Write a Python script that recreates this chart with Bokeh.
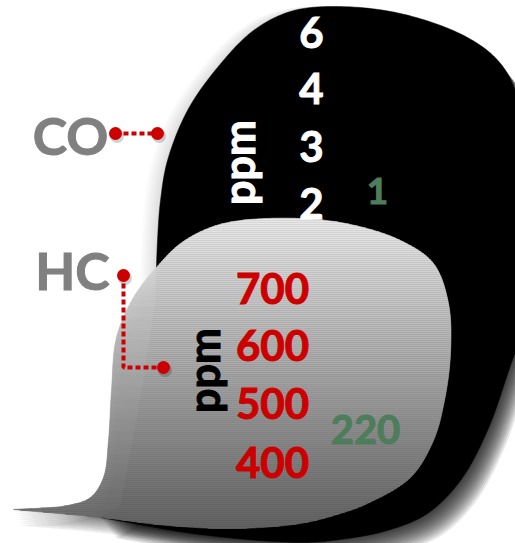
import numpy as np
from bokeh.plotting import figure
from bokeh.models import Range1d
from bokeh.core.properties import value
from bokeh.embed import file_html
from bokeh.resources import INLINE

# ---- data ----
gases = ["CO", "HC"]
unit = "ppm"
co_ticks = ["6", "4", "3", "2"]
co_value = "1"
hc_ticks = ["700", "600", "500", "400"]
hc_value = "220"

# ---- colours ----
RED = "#cc0000"
GREEN = "#4e7d5b"
GREY_TXT = "#808080"
FONT = value("Lato")

# ---- layout (pixel-like coordinates, y downward) ----
W, H = 515, 543
p = figure(width=W, height=H, x_range=Range1d(0, W), y_range=Range1d(H, 0),
           output_backend="svg", toolbar_location=None, min_border=0)
p.axis.visible = False
p.grid.visible = False
p.outline_line_color = None
p.background_fill_color = "white"
p.border_fill_color = "white"


def catmull(points, n=24):
    P = np.array(points, float)
    ext = np.vstack([2 * P[0] - P[1], P, 2 * P[-1] - P[-2]])
    out = []
    for i in range(len(ext) - 3):
        p0, p1, p2, p3 = ext[i:i + 4]
        t0 = 0.0
        t1 = t0 + max(np.linalg.norm(p1 - p0), 1e-6) ** 0.5
        t2 = t1 + max(np.linalg.norm(p2 - p1), 1e-6) ** 0.5
        t3 = t2 + max(np.linalg.norm(p3 - p2), 1e-6) ** 0.5
        t = np.linspace(t1, t2, n, endpoint=False)[:, None]
        A1 = (t1 - t) / (t1 - t0) * p0 + (t - t0) / (t1 - t0) * p1
        A2 = (t2 - t) / (t2 - t1) * p1 + (t - t1) / (t2 - t1) * p2
        A3 = (t3 - t) / (t3 - t2) * p2 + (t - t2) / (t3 - t2) * p3
        B1 = (t2 - t) / (t2 - t0) * A1 + (t - t0) / (t2 - t0) * A2
        B2 = (t3 - t) / (t3 - t1) * A2 + (t - t1) / (t3 - t1) * A3
        C = (t2 - t) / (t2 - t1) * B1 + (t - t1) / (t2 - t1) * B2
        out.append(C)
    out.append(P[-1:])
    return np.vstack(out)


black_curve = catmull([(155, 300), (157, 240), (160, 200), (167, 160), (187, 110), (217, 67),
                       (253, 30), (290, 11), (333, 6), (400, 13), (467, 37), (500, 63),
                       (518, 100), (535, 200), (532, 300), (510, 365), (487, 430), (460, 480),
                       (427, 513), (387, 530), (340, 539), (300, 542), (200, 534), (100, 517)])
black_poly = np.vstack([black_curve, [(120, 505), (140, 400)]])

grey_poly = catmull([(13, 509), (67, 505), (90, 497), (103, 477), (108, 440), (111, 390),
                     (116, 337), (133, 297), (155, 268), (180, 243), (210, 227), (240, 220),
                     (300, 218), (350, 224), (400, 240), (433, 263), (448, 303), (450, 353),
                     (444, 400), (433, 440), (410, 477), (367, 503), (340, 513), (300, 523),
                     (233, 528), (167, 525), (100, 517), (13, 509)])


def clip_band(poly, y0, y1):
    def clip(pts, keep, yc):
        res = []
        n = len(pts)
        for i in range(n):
            a, b = pts[i], pts[(i + 1) % n]
            ia, ib = keep(a[1]), keep(b[1])
            if ia:
                res.append(a)
            if ia != ib:
                t = (yc - a[1]) / (b[1] - a[1])
                res.append((a[0] + t * (b[0] - a[0]), yc))
        return res
    pts = [tuple(q) for q in poly]
    pts = clip(pts, lambda y: y >= y0, y0)
    if not pts:
        return None
    pts = clip(pts, lambda y: y <= y1, y1)
    if len(pts) < 3:
        return None
    return np.array(pts)


# soft glow left of the black blob
for d in range(2, 18, 2):
    p.patch(black_poly[:, 0] - d, black_poly[:, 1], fill_color="black", fill_alpha=0.015, line_color=None)
# drop shadow of the black blob
for d in range(2, 28, 2):
    p.patch(black_poly[:, 0] + d * 0.6, black_poly[:, 1] + d * 0.8, fill_color="black",
            fill_alpha=0.095, line_color=None)
p.patch(black_poly[:, 0], black_poly[:, 1], fill_color="black", line_color="black", line_width=0.5)

# drop shadow of the grey blob
for d in range(2, 18, 2):
    p.patch(grey_poly[:, 0] + d * 0.4, grey_poly[:, 1] + d, fill_color="black",
            fill_alpha=0.07, line_color=None)

# grey blob with vertical gradient
ytop, ybot = grey_poly[:, 1].min(), grey_poly[:, 1].max()
step = 2.0
xs, ys, cols = [], [], []
y = ytop
while y < ybot:
    band = clip_band(grey_poly, y, y + step)
    if band is not None:
        f = (y + step / 2 - 222) / (525 - 222)
        f = min(max(f, 0), 1)
        g = int(round(232 - f * (232 - 100)))
        xs.append(band[:, 0].tolist())
        ys.append(band[:, 1].tolist())
        cols.append("#%02x%02x%02x" % (g, g, g))
    y += step
p.patches(xs=xs, ys=ys, fill_color=cols, line_color=cols, line_width=0.6)

# connectors
co_conn_x, co_conn_y = [115, 157], [133, 133]
hc_conn_x, hc_conn_y = [123, 123, 163], [275, 367, 367]
for cx, cy in ((co_conn_x, co_conn_y), (hc_conn_x, hc_conn_y)):
    p.line(cx, cy, line_color=RED, line_width=4, line_dash="5 3")
    ex, ey = [cx[0], cx[-1]], [cy[0], cy[-1]]
    p.scatter([v + 1.5 for v in ex], [v + 2.5 for v in ey], size=14, fill_color="black",
              fill_alpha=0.18, line_color=None)
    p.scatter(ex, ey, size=13, fill_color=RED, line_color=None)

# texts
common = dict(text_font=FONT, text_font_style="bold", text_align="center", text_baseline="middle")
p.text(x=[70, 72], y=[134, 269], text=gases, text_font_size="52px", text_color=GREY_TXT,
       text_outline_color=GREY_TXT, **common)
p.text(x=[311] * 4, y=[32, 88, 146, 203], text=co_ticks, text_font_size="42px", text_color="white",
       text_outline_color="white", **common)
p.text(x=[377], y=[190], text=[co_value], text_font_size="37px", text_color=GREEN,
       text_outline_color=GREEN, **common)
p.text(x=[238], y=[162], text=[unit], text_font_size="43px", text_color="white",
       text_outline_color="white", angle=np.pi / 2, **common)
p.text(x=[272] * 4, y=[288, 345, 403, 462], text=hc_ticks, text_font_size="42px", text_color=RED,
       text_outline_color=RED, **common)
p.text(x=[365], y=[429], text=[hc_value], text_font_size="40px", text_color=GREEN,
       text_outline_color=GREEN, **common)
p.text(x=[203], y=[370], text=[unit], text_font_size="43px", text_color="black",
       text_outline_color="black", angle=np.pi / 2, **common)

open("out.html", "w").write(file_html(p, INLINE))
